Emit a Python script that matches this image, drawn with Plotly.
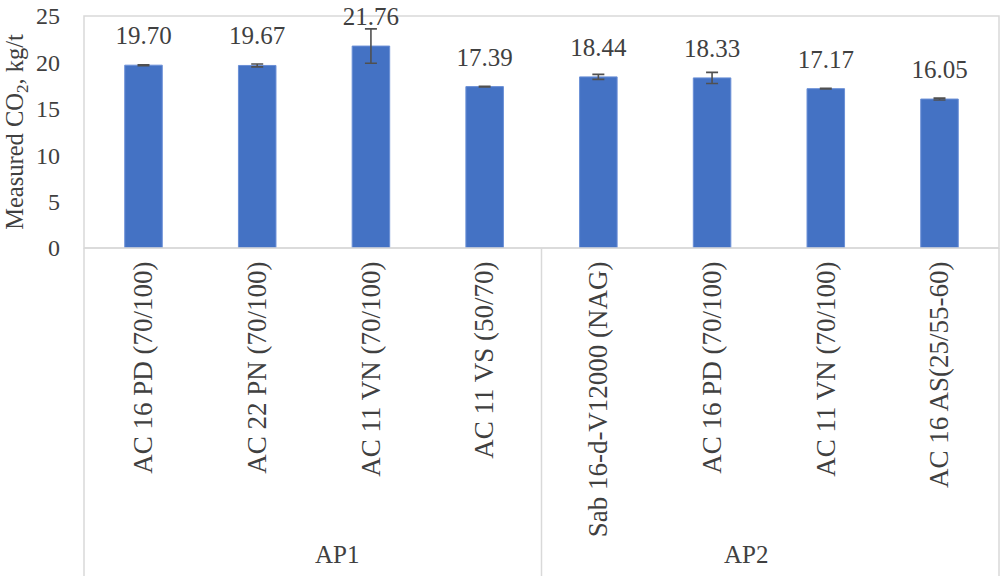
import plotly.graph_objects as go

groups = ["AP1", "AP1", "AP1", "AP1", "AP2", "AP2", "AP2", "AP2"]
mixes = ["AC 16 PD (70/100)", "AC 22 PN (70/100)", "AC 11 VN (70/100)", "AC 11 VS (50/70)",
         "Sab 16-d-V12000 (NAG)", "AC 16 PD (70/100)", "AC 11 VN (70/100)", "AC 16 AS(25/55-60)"]
co2 = [19.70, 19.67, 21.76, 17.39, 18.44, 18.33, 17.17, 16.05]
co2_err = [0.05, 0.15, 1.85, 0.03, 0.27, 0.6, 0.03, 0.1]

# unique keys so repeated mix names stay separate bars
keys = [f"{g}: {m}" for g, m in zip(groups, mixes)]
group_names = ["AP1", "AP2"]

font_name = "Liberation Serif"
grey_text = "#404040"
frame = "#d9d9d9"

fig = go.Figure()
fig.add_bar(x=keys, y=co2, width=0.33,
            marker=dict(color="#4472C4", line=dict(color="#6a8fd6", width=1)),
            error_y=dict(type="data", array=co2_err, color="#505050", thickness=1.6, width=6),
            showlegend=False)
# value labels above each bar
fig.add_scatter(x=keys, y=co2, mode="markers+text",
                text=[f"{v:.2f}" for v in co2], textposition="top center",
                marker=dict(size=22, opacity=0), cliponaxis=False,
                textfont=dict(family=font_name, size=25, color=grey_text),
                showlegend=False, hoverinfo="skip")

fig.update_layout(
    width=1006, height=576,
    margin=dict(l=84, r=7, t=16, b=328),
    paper_bgcolor="white", plot_bgcolor="white",
    font=dict(family=font_name, size=24, color=grey_text),
)
fig.update_yaxes(range=[0, 25], dtick=5, showgrid=False, zeroline=False,
                 showline=False, ticks="", ticklabelstandoff=23, automargin=False,
                 tickfont=dict(size=24),
                 title=dict(text="Measured CO<sub>2</sub>, kg/t", standoff=5,
                            font=dict(family=font_name, size=24.5, color=grey_text)))
fig.update_xaxes(type="category", tickvals=keys, ticktext=mixes, tickangle=-90,
                 tickfont=dict(size=27), ticklabelstandoff=7,
                 showline=False, ticks="", showgrid=False, automargin=False)

# group labels under the mix names
for i, name in enumerate(group_names):
    fig.add_annotation(text=name, xref="paper", yref="paper", x=0.25 + 0.5 * i, y=-1.323,
                       yanchor="middle", showarrow=False,
                       font=dict(family=font_name, size=25, color=grey_text))

# Excel-style frame: plot border and category box
fig.add_shape(type="rect", xref="paper", yref="paper", x0=0, x1=1, y0=0, y1=1,
              line=dict(color=frame, width=1.5), layer="below")
for xp in [0, 0.5, 1]:
    fig.add_shape(type="line", xref="paper", yref="paper", x0=xp, x1=xp, y0=0, y1=-1.45,
                  line=dict(color=frame, width=1.5))
fig.add_shape(type="line", xref="paper", yref="paper", x0=0, x1=1, y0=0, y1=0,
              line=dict(color=frame, width=1.5))

fig.write_html("out.html", config={"displayModeBar": False},
               post_script="document.body.style.margin='0';")
